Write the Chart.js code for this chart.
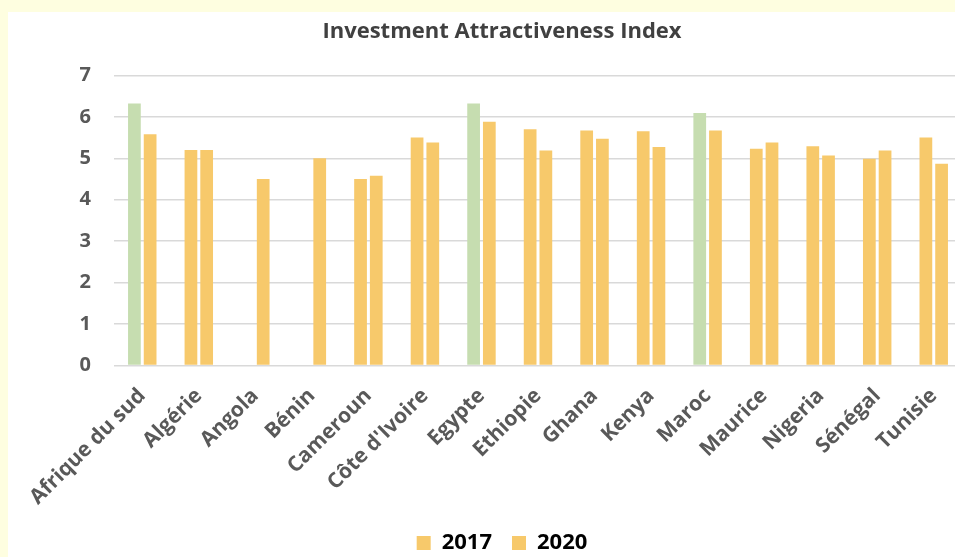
<!DOCTYPE html>
<html>
<head>
<meta charset="utf-8">
<script src="https://cdn.jsdelivr.net/npm/chart.js@4/dist/chart.umd.min.js"></script>
<style>
  html, body { margin: 0; padding: 0; width: 955px; height: 557px; overflow: hidden; background: #FEFEE0; }
  #wrap { position: absolute; left: 8px; top: 12px; width: 988px; height: 545px; background: #ffffff; }
</style>
</head>
<body>
<div id="wrap"><canvas id="c"></canvas></div>
<script>
const categories = ["Afrique du sud","Algérie","Angola","Bénin","Cameroun","Côte d'Ivoire","Egypte","Ethiopie","Ghana","Kenya","Maroc","Maurice","Nigeria","Sénégal","Tunisie"];
const values2017 = [6.32, 5.2, null, null, 4.5, 5.5, 6.32, 5.7, 5.67, 5.65, 6.09, 5.23, 5.29, 4.99, 5.5];
const values2020 = [5.58, 5.2, 4.5, 5.0, 4.58, 5.38, 5.88, 5.19, 5.47, 5.27, 5.67, 5.38, 5.07, 5.19, 4.87];
const highlighted2017 = ["Afrique du sud", "Egypte", "Maroc"];
const seriesNames = ["2017", "2020"];
const yTicks = [0, 1, 2, 3, 4, 5, 6, 7];

const YELLOW = "#F7C96B";
const GREEN = "#C6DDB0";
const TEXT = "#595959";

const colors2017 = categories.map(c => highlighted2017.includes(c) ? GREEN : YELLOW);

new Chart(document.getElementById("c"), {
  type: "bar",
  data: {
    labels: categories,
    datasets: [
      { label: seriesNames[0], data: values2017, backgroundColor: colors2017, categoryPercentage: 0.556, barPercentage: 0.81 },
      { label: seriesNames[1], data: values2020, backgroundColor: YELLOW, categoryPercentage: 0.556, barPercentage: 0.81 }
    ]
  },
  options: {
    responsive: true,
    maintainAspectRatio: false,
    animation: false,
    layout: { padding: { left: 34, right: 34, top: 0, bottom: -7 } },
    plugins: {
      title: {
        display: true,
        text: "Investment Attractiveness Index",
        color: "#404040",
        font: { family: "Open Sans", size: 22, weight: "bold" },
        padding: { top: 7, bottom: 30 }
      },
      legend: {
        position: "bottom",
        labels: {
          color: TEXT,
          font: { family: "Open Sans", size: 22, weight: "bold" },
          boxWidth: 14,
          boxHeight: 14,
          padding: 20,
          generateLabels: (chart) => chart.data.datasets.map((ds, i) => ({
            text: ds.label, fillStyle: YELLOW, strokeStyle: YELLOW, lineWidth: 0, datasetIndex: i, hidden: false
          }))
        }
      },
      tooltip: { enabled: false }
    },
    scales: {
      x: {
        grid: { display: false },
        border: { display: false },
        afterFit: (axis) => { axis.height -= 8; },
        ticks: {
          color: TEXT,
          font: { family: "Open Sans", size: 21, weight: "bold" },
          maxRotation: 45,
          minRotation: 45,
          autoSkip: false,
          padding: 10
        }
      },
      y: {
        min: 0,
        max: 7,
        afterBuildTicks: (axis) => { axis.ticks = yTicks.map(v => ({ value: v })); },
        afterFit: (axis) => { axis.width = 72; },
        grid: { color: "#D9D9D9", lineWidth: 1.5, drawTicks: false },
        border: { display: false },
        ticks: {
          color: TEXT,
          font: { family: "Open Sans", size: 20, weight: "bold" },
          padding: 23
        }
      }
    }
  }
});
</script>
</body>
</html>
